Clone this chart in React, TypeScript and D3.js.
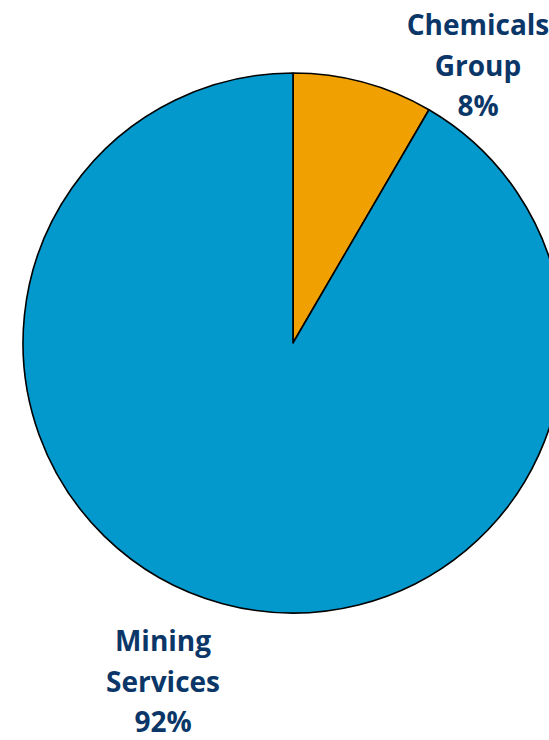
import React from "react";
import * as d3 from "d3";

const categories = ["Chemicals Group", "Mining Services"];
const values = [8.4, 91.6];
const labelLines = [["Chemicals", "Group", "8%"], ["Mining", "Services", "92%"]];
const colors = ["#F0A000", "#0399CD"];

const W = 549, H = 740;
const cx = 293, cy = 343, R = 270;
const labelPos = [
  { x: 478, y: 35 },
  { x: 163, y: 651 },
];
const lineGap = 40.5;

export default function App() {
  const pie = d3.pie<number>().sort(null).value((d) => d)(values);
  const arc = d3.arc<d3.PieArcDatum<number>>().innerRadius(0).outerRadius(R);
  return (
    <svg width={W} height={H} style={{ position: "absolute", left: 0, top: 0, background: "#fff" }}>
      <g transform={`translate(${cx},${cy})`}>
        {pie.map((p, i) => (
          <path key={categories[i]} d={arc(p) || ""} fill={colors[i]} stroke="#000" strokeWidth={1.6} strokeLinejoin="round" />
        ))}
      </g>
      {labelLines.map((lines, i) => (
        <text key={i} textAnchor="middle" fill="#0B3668" fontFamily="'Open Sans', sans-serif" fontWeight={700} fontSize={28}>
          {lines.map((t, j) => (
            <tspan key={j} x={labelPos[i].x} y={labelPos[i].y + j * lineGap}>{t}</tspan>
          ))}
        </text>
      ))}
    </svg>
  );
}
